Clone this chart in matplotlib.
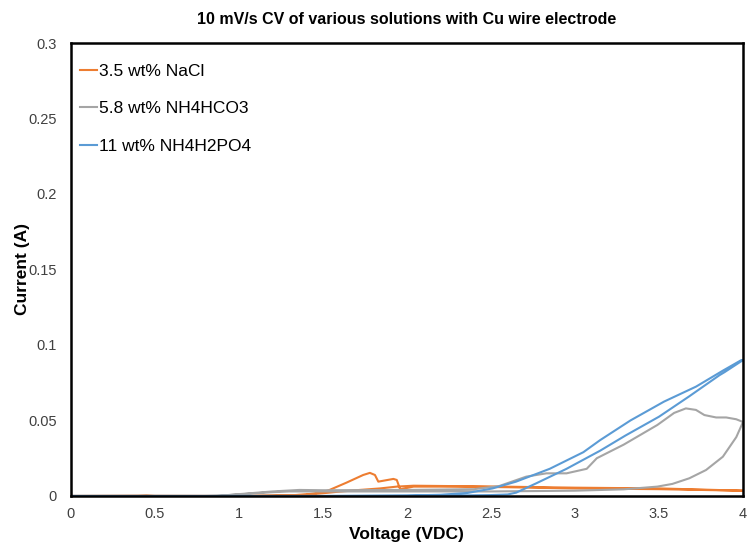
import numpy as np
import matplotlib.pyplot as plt

plt.rcParams['font.family'] = ['Liberation Sans', 'DejaVu Sans']

# 3.5 wt% NaCl (forward then reverse scan)
nacl_v = [0, 0.4, 0.45, 0.5, 1.0, 1.3, 1.4, 1.5, 1.54, 1.64, 1.74, 1.78, 1.81, 1.83,
          1.92, 1.94, 1.96, 2.04, 2.3, 2.6, 3.0, 3.5, 4.0,
          3.5, 3.0, 2.5, 2.04, 1.94, 1.84, 1.72, 1.59, 1.5, 1.4, 1.2, 1.0, 0.5, 0]
nacl_i = [0, 0.0002, 0.0004, 0.0001, 0, 0.0004, 0.001, 0.0025, 0.004, 0.0088, 0.0139, 0.0153,
          0.0139, 0.0095, 0.0113, 0.0106, 0.0044, 0.0062, 0.0062, 0.0058, 0.005, 0.0045, 0.0035,
          0.005, 0.0055, 0.0063, 0.0068, 0.0062, 0.005, 0.004, 0.0028, 0.0018, 0.0008, 0.0002,
          0, 0, 0]

# 5.8 wt% NH4HCO3
hco3_v = [0, 0.8, 0.9, 1.0, 1.1, 1.2, 1.3, 1.5, 2.0, 2.5, 3.0, 3.29, 3.49, 3.58, 3.68,
          3.78, 3.88, 3.96, 4.0,
          3.96, 3.90, 3.84, 3.77, 3.72, 3.66, 3.59, 3.49, 3.29, 3.13, 3.07, 2.95, 2.83,
          2.71, 2.55, 2.4, 2.0, 1.5, 1.36, 1.2, 1.0, 0.87, 0]
hco3_i = [0, 0, 0.0003, 0.001, 0.0018, 0.0025, 0.003, 0.003, 0.003, 0.003, 0.0035, 0.0044,
          0.0062, 0.008, 0.0117, 0.0172, 0.026, 0.039, 0.049,
          0.0508, 0.052, 0.052, 0.0536, 0.057, 0.058, 0.055, 0.047, 0.034, 0.025, 0.018,
          0.015, 0.015, 0.0128, 0.0066, 0.0045, 0.004, 0.0038, 0.004, 0.003, 0.0012, 0, 0]

# 11 wt% NH4H2PO4
po4_v = [0, 1.5, 2.0, 2.3, 2.5, 2.6, 2.65, 2.77, 2.95, 3.15, 3.3, 3.5, 3.68, 3.86, 3.89, 4.0,
         3.99, 3.88, 3.72, 3.53, 3.33, 3.15, 3.05, 2.85, 2.65, 2.51, 2.36, 2.2, 2.0, 1.5, 0]
po4_i = [0, 0, 0.0001, 0.0003, 0.0006, 0.001, 0.0022, 0.0084, 0.018, 0.030, 0.040, 0.0525,
         0.066, 0.080, 0.082, 0.090,
         0.090, 0.083, 0.0724, 0.0625, 0.050, 0.037, 0.029, 0.018, 0.0095, 0.005, 0.002,
         0.0008, 0.0003, 0, 0]

fig = plt.figure(figsize=(7.5, 5.43), dpi=100)
ax = fig.add_axes([0.0943, 0.0866, 0.8964, 0.8342])

ax.plot(nacl_v, nacl_i, color='#ED7D31', lw=1.5, label='3.5 wt% NaCl')
ax.plot(hco3_v, hco3_i, color='#A5A5A5', lw=1.5, label='5.8 wt% NH4HCO3')
ax.plot(po4_v, po4_i, color='#5B9BD5', lw=1.5, label='11 wt% NH4H2PO4')

ax.set_xlim(0, 4)
ax.set_ylim(0, 0.3)
ax.set_xticks(np.arange(0, 4.01, 0.5))
ax.set_yticks(np.arange(0, 0.301, 0.05))
ax.set_xticklabels(['0', '0.5', '1', '1.5', '2', '2.5', '3', '3.5', '4'])
ax.set_yticklabels(['0', '0.05', '0.1', '0.15', '0.2', '0.25', '0.3'])
ax.tick_params(length=0, labelsize=10.5, labelcolor='#404040')
ax.tick_params(axis='x', pad=8)
ax.tick_params(axis='y', pad=10)
for s in ax.spines.values():
    s.set_linewidth(1.8)
    s.set_color('black')

ax.set_xlabel('Voltage (VDC)', fontsize=12.5, fontweight='bold', labelpad=4)
ax.set_ylabel('Current (A)', fontsize=12.5, fontweight='bold', labelpad=-1.5)
ax.set_title('10 mV/s CV of various solutions with Cu wire electrode',
             fontsize=11.5, fontweight='bold', pad=14)

ax.legend(loc='upper left', bbox_to_anchor=(0.003, 0.97), frameon=False,
          fontsize=12.5, handlelength=1.0, handletextpad=0.1, labelspacing=1.3,
          borderaxespad=0)

fig.savefig('out.png', dpi=100)
